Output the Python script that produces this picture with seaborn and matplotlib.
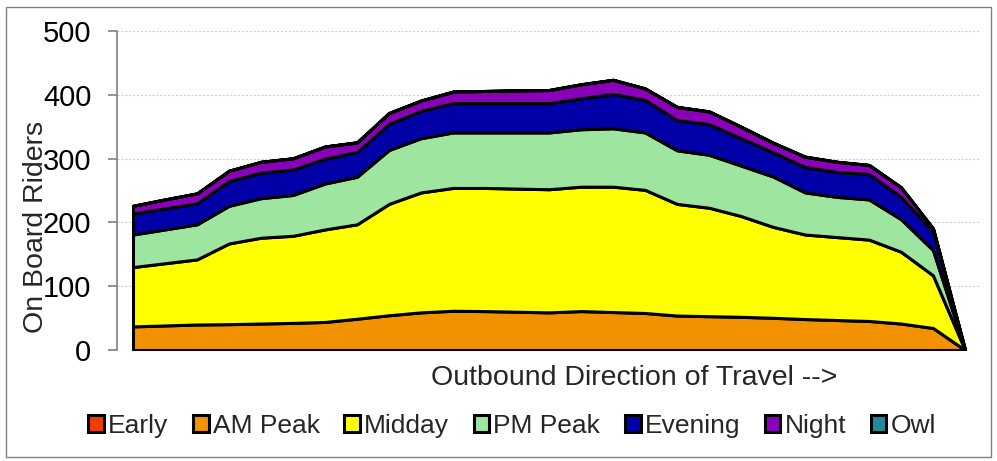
import numpy as np
import pandas as pd
import matplotlib
matplotlib.use("Agg")
import matplotlib.pyplot as plt
from matplotlib.patches import Rectangle
import seaborn as sns

# Riders on board by time period at each stop, outbound direction
stops = list(range(27))
early = [0] * 27
am_peak = [37, 38.5, 40, 40.5, 41.5, 42.5, 44, 49, 54.5, 59, 61.5, 61, 60, 59,
           61, 59.5, 58, 54, 53, 52, 50.5, 48.5, 47, 45.5, 41.5, 34.5, 0]
midday = [93, 97.5, 102, 126.5, 134.5, 136.5, 145, 148, 174.5, 188, 192.5, 193,
          193, 193, 195, 196.5, 193, 175, 170, 158, 142.5, 132.5, 130, 127.5,
          112.5, 82.5, 0]
pm_peak = [51, 53, 55, 59, 62, 64, 72, 74.5, 84.5, 85, 87, 87, 88, 89, 90, 91.5,
           90, 84, 83, 79, 79, 66, 63, 63, 51, 39.5, 0]
evening = [33, 33, 33, 39, 40, 40, 39, 39, 41, 43, 46, 46, 46, 46, 48.5, 54, 51,
           47.5, 48, 43, 38, 40, 39, 40, 35, 29.5, 0]
night = [12, 14, 15.5, 16, 17, 17.5, 19, 15, 17, 16, 18, 19, 20, 20.5, 22, 22,
         18, 20.5, 20, 18, 15, 16, 16, 14, 15, 4.5, 0]
owl = [0] * 27

periods = ["Early", "AM Peak", "Midday", "PM Peak", "Evening", "Night", "Owl"]
colors = ["#F03C00", "#F39200", "#FFFF00", "#9EE6A0", "#0000A6", "#8A00B8", "#208898"]
y_ticks = [0, 100, 200, 300, 400, 500]

df = pd.DataFrame({"stop": stops, "Early": early, "AM Peak": am_peak,
                   "Midday": midday, "PM Peak": pm_peak, "Evening": evening,
                   "Night": night, "Owl": owl})

sns.set_style("white")
plt.rcParams["font.family"] = ["Liberation Sans", "DejaVu Sans"]

fig = plt.figure(figsize=(9.97, 4.61), dpi=100)
ax = fig.add_axes([117 / 997, 1 - 350 / 461, (981 - 117) / 997, (350 - 31) / 461])

polys = ax.stackplot(df["stop"], *[df[p] for p in periods], labels=periods,
                     colors=colors, edgecolor="black", linewidth=2.2)

ax.set_xlim(-0.5, 26.5)
ax.set_ylim(0, 500)
ax.set_yticks(y_ticks)
ax.set_xticks([])
ax.yaxis.grid(True, color="#cfcfcf", linestyle=(0, (2, 1.5)), linewidth=0.8)
ax.set_axisbelow(True)
for side in ["top", "right", "bottom"]:
    ax.spines[side].set_visible(False)
ax.spines["left"].set_color("#808080")
ax.spines["left"].set_linewidth(1.2)
ax.tick_params(axis="y", direction="out", length=6.5, width=1.2, color="#808080",
               pad=12, labelsize=21, labelcolor="black", left=True)

fig.text(36 / 997, 1 - 227 / 461, "On Board Riders", rotation=90,
         ha="center", va="center", fontsize=20.5)
fig.text(634 / 997, 1 - 378 / 461, "Outbound Direction of Travel -->",
         ha="center", va="center", fontsize=20.5)

fig.legend(handles=polys, labels=periods, loc="center", ncol=7,
           bbox_to_anchor=(512 / 997, 1 - 426 / 461), frameon=False,
           fontsize=19, handlelength=0.6, handleheight=0.6,
           handletextpad=0.15, columnspacing=0.93, borderaxespad=0)

# chart area border
fig.patches.append(Rectangle((6 / 997, 4 / 461), 985 / 997, 450 / 461,
                             transform=fig.transFigure, fill=False,
                             edgecolor="#808080", linewidth=1.0))

fig.savefig("out.png", dpi=100, facecolor="white")
